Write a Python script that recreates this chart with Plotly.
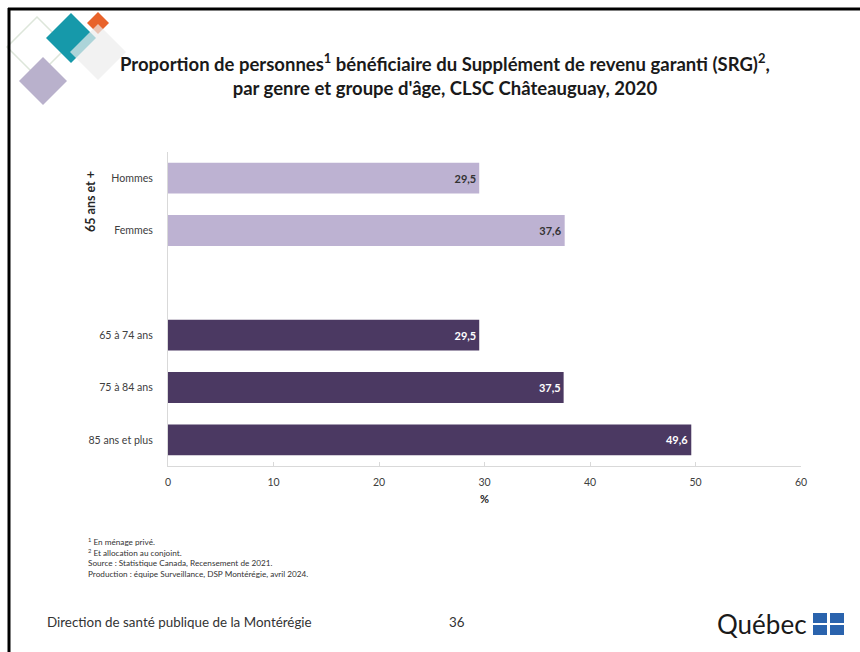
import plotly.graph_objects as go

# ---- data ----
genre_labels = ["Hommes", "Femmes"]
genre_values = [29.5, 37.6]
age_labels = ["65 à 74 ans", "75 à 84 ans", "85 ans et plus"]
age_values = [29.5, 37.5, 49.6]
spacer = " "
category_order = genre_labels + [spacer] + age_labels
x_ticks = [0, 10, 20, 30, 40, 50, 60]

title_text = ("<b>Proportion de personnes<sup>1</sup> bénéficiaire du Supplément de revenu garanti (SRG)<sup>2</sup>,"
              "<br>par genre et groupe d'âge, CLSC Châteauguay, 2020</b>")
group_label = "65 ans et +"
footnotes = ["<sup>1</sup> En ménage privé.",
             "<sup>2</sup> Et allocation au conjoint.",
             "Source : Statistique Canada, Recensement de 2021.",
             "Production : équipe Surveillance, DSP Montérégie, avril 2024."]
footer_left = "Direction de santé publique de la Montérégie"
page_number = "36"

W, H = 860, 652
L, R, T, B = 168, 801, 152, 466
FONT = "Lato"

def px(x):
    return (x - L) / (R - L)

def py(y):
    return (B - y) / (B - T)

fig = go.Figure()
fig.add_trace(go.Bar(
    y=genre_labels, x=genre_values, orientation="h",
    marker=dict(color="#bdb2d2", line=dict(width=0)),
    texttemplate="<b>%{x:.1f}</b>", textposition="inside", insidetextanchor="end",
    textfont=dict(color="#333333", size=11, family=FONT),
    width=0.59, hoverinfo="x+y"))
fig.add_trace(go.Bar(
    y=age_labels, x=age_values, orientation="h",
    marker=dict(color="#4b3962", line=dict(width=0)),
    texttemplate="<b>%{x:.1f}</b>", textposition="inside", insidetextanchor="end",
    textfont=dict(color="#ffffff", size=11, family=FONT),
    width=0.59, hoverinfo="x+y"))

shapes = []
def diamond(cx, cy, h, fill, line=None, opacity=1.0):
    path = (f"M {px(cx)} {py(cy - h)} L {px(cx + h)} {py(cy)} "
            f"L {px(cx)} {py(cy + h)} L {px(cx - h)} {py(cy)} Z")
    shapes.append(dict(type="path", xref="paper", yref="paper", path=path,
                       fillcolor=fill, opacity=opacity,
                       line=dict(color=line if line else "rgba(0,0,0,0)", width=1.5 if line else 0),
                       layer="above"))

# decorative logo diamonds
diamond(37, 47, 30, "rgba(0,0,0,0)", line="#dde6da")
diamond(43, 81, 24, "#b9b1cc")
diamond(71, 38, 25, "#1699aa")
diamond(98, 23, 11, "#e8632b")
diamond(98, 52, 28, "#ececec", opacity=0.7)

# slide frame
shapes.append(dict(type="line", xref="paper", yref="paper", x0=px(8), x1=px(860), y0=py(9), y1=py(9),
                   line=dict(color="#000000", width=3)))
shapes.append(dict(type="line", xref="paper", yref="paper", x0=px(9), x1=px(9), y0=py(8), y1=py(652),
                   line=dict(color="#000000", width=3)))

# Quebec flag squares
for (sx, sy) in [(813, 613), (830, 613), (813, 625), (830, 625)]:
    shapes.append(dict(type="rect", xref="paper", yref="paper", x0=px(sx), x1=px(sx + 14),
                       y0=py(sy), y1=py(sy + 10), fillcolor="#2a63ad", line=dict(width=0)))

annotations = []
annotations.append(dict(text=title_text, x=px(445), y=py(75), xref="paper", yref="paper",
                        showarrow=False, xanchor="center", yanchor="middle",
                        font=dict(family=FONT, size=18.5, color="#1a1a1a")))
annotations.append(dict(text=f"<b>{group_label}</b>", x=px(90), y=py(202), xref="paper", yref="paper",
                        showarrow=False, textangle=-90, xanchor="center", yanchor="middle",
                        font=dict(family=FONT, size=12.5, color="#262626")))
for i, t in enumerate(footnotes):
    annotations.append(dict(text=t, x=px(86), y=py(541 + i * 11), xref="paper", yref="paper",
                            showarrow=False, xanchor="left", yanchor="middle",
                            font=dict(family=FONT, size=8.2, color="#333333")))
annotations.append(dict(text=footer_left, x=px(45), y=py(622), xref="paper", yref="paper",
                        showarrow=False, xanchor="left", yanchor="middle",
                        font=dict(family=FONT, size=13.4, color="#333333")))
annotations.append(dict(text=page_number, x=px(457), y=py(622), xref="paper", yref="paper",
                        showarrow=False, xanchor="center", yanchor="middle",
                        font=dict(family=FONT, size=13.4, color="#333333")))
annotations.append(dict(text="Québec", x=px(809), y=py(624), xref="paper", yref="paper",
                        showarrow=False, xanchor="right", yanchor="middle",
                        font=dict(family=FONT, size=26, color="#1a1a1a")))

fig.update_layout(
    width=W, height=H,
    margin=dict(l=L, r=W - R, t=T, b=H - B, pad=0),
    paper_bgcolor="white", plot_bgcolor="white",
    showlegend=False, barmode="relative",
    separators=", ",
    font=dict(family=FONT, size=10, color="#404040"),
    shapes=shapes, annotations=annotations,
    xaxis=dict(range=[0, 60], tickvals=x_ticks, showgrid=False, zeroline=False,
               showline=True, linecolor="#d9d9d9", linewidth=1,
               ticks="inside", ticklen=4, tickcolor="#d9d9d9",
               ticklabelstandoff=6,
               tickfont=dict(size=10.5, color="#404040"),
               title=dict(text="<b>%</b>", font=dict(size=11, color="#262626"), standoff=8)),
    yaxis=dict(type="category", categoryorder="array", categoryarray=category_order,
               autorange=False, range=[5.5, -0.5], showgrid=False, zeroline=False,
               showline=True, linecolor="#d9d9d9", linewidth=1, ticks="",
               ticklabelstandoff=12, tickfont=dict(size=10.6, color="#404040")),
)

fig.write_html("out.html", config={"displayModeBar": False},
               post_script="document.body.style.margin='0';document.body.style.padding='0';")
